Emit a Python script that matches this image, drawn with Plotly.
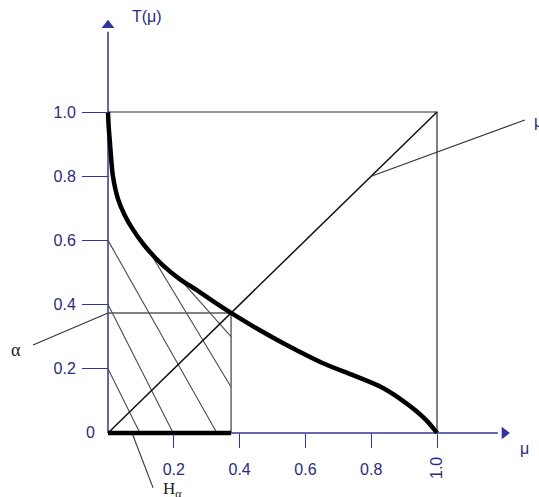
import plotly.graph_objects as go

# Membership transform curve T(mu)
mu_curve = [0.0, 0.002, 0.006, 0.015, 0.03, 0.05, 0.075, 0.11, 0.167, 0.22, 0.27,
            0.32, 0.374, 0.45, 0.55, 0.65, 0.75, 0.83, 0.89, 0.935, 0.97, 0.99, 1.0]
t_curve = [1.0, 0.955, 0.903, 0.80, 0.73, 0.68, 0.635, 0.585, 0.522, 0.478, 0.445,
           0.41, 0.374, 0.327, 0.27, 0.219, 0.178, 0.143, 0.105, 0.07, 0.037, 0.013, 0.0]

alpha = 0.374

# Axis ticks
x_tick_vals = [0.2, 0.4, 0.6, 0.8]
x_tick_text = ["0.2", "0.4", "0.6", "0.8"]
x_end_tick = [1.0]
y_tick_vals = [0.2, 0.4, 0.6, 0.8, 1.0]
y_tick_text = ["0.2", "0.4", "0.6", "0.8", "1.0"]

# Hatching under the curve, inside the alpha box
hatch_mu0 = [0.0, 0.0, 0.0, 0.12, 0.22]
hatch_t0 = [0.2, 0.4, 0.6, 0.575, 0.478]
hatch_mu1 = [0.097, 0.198, 0.331, alpha, alpha]
hatch_t1 = [0.0, 0.0, 0.0, 0.143, 0.30]

# Leader lines for the labels
alpha_leader_mu = [-0.228, 0.0]
alpha_leader_t = [0.274, alpha]
h_leader_mu = [0.073, 0.137]
h_leader_t = [0.0, -0.171]
mu_leader_mu = [0.8, 1.267]
mu_leader_t = [0.8, 0.975]

# Axis extents (arrow tips)
x_axis_end = 1.205
y_axis_end = 1.27

X_RANGE = [-0.3283, 1.3100]
Y_RANGE = [-0.1994, 1.3489]

NAVY = "#33339c"
LABEL = "#2b2b80"
SANS = "Liberation Sans, Arial, sans-serif"
SERIF = "Liberation Serif, Times New Roman, serif"

fig = go.Figure()

# axis lines with arrowheads
fig.add_trace(go.Scatter(x=[0, 0], y=[0, y_axis_end - 0.02], mode="lines",
                         line=dict(color=NAVY, width=1.5)))
fig.add_trace(go.Scatter(x=[0, x_axis_end - 0.02], y=[0, 0], mode="lines",
                         line=dict(color=NAVY, width=1.5)))
fig.add_trace(go.Scatter(x=[0], y=[y_axis_end], mode="markers",
                         marker=dict(symbol="triangle-up", size=11, color=NAVY)))
fig.add_trace(go.Scatter(x=[x_axis_end], y=[0], mode="markers",
                         marker=dict(symbol="triangle-right", size=11, color=NAVY)))

hx, hy = [], []
for a, b, c, d in zip(hatch_mu0, hatch_t0, hatch_mu1, hatch_t1):
    hx += [a, c, None]
    hy += [b, d, None]
fig.add_trace(go.Scatter(x=hx, y=hy, mode="lines",
                         line=dict(color="#4a4a4a", width=1.1)))

# unit square (top and right sides) and diagonal
fig.add_trace(go.Scatter(x=[0, 1, 1], y=[1, 1, 0], mode="lines",
                         line=dict(color="#2a2a2a", width=1.2)))
fig.add_trace(go.Scatter(x=[0, 1], y=[0, 1], mode="lines",
                         line=dict(color="#111111", width=1.5)))

# alpha level box
fig.add_trace(go.Scatter(x=[0, alpha, alpha], y=[alpha, alpha, 0], mode="lines",
                         line=dict(color="#5a5a5a", width=1.4)))

# leaders
for lx, ly in [(alpha_leader_mu, alpha_leader_t), (h_leader_mu, h_leader_t),
               (mu_leader_mu, mu_leader_t)]:
    fig.add_trace(go.Scatter(x=lx, y=ly, mode="lines",
                             line=dict(color="#333333", width=1.1)))

# the curve and H_alpha segment
fig.add_trace(go.Scatter(x=mu_curve, y=t_curve, mode="lines",
                         line=dict(color="black", width=4.5, shape="spline", smoothing=1.0)))
fig.add_trace(go.Scatter(x=[0, alpha], y=[0, 0], mode="lines",
                         line=dict(color="black", width=4.5)))

annotations = [
    dict(x=-0.052, y=0, text="0", showarrow=False,
         font=dict(family=SANS, size=16, color=LABEL)),
    dict(x=1.0, y=-0.109, text="1.0", textangle=-90, showarrow=False,
         font=dict(family=SANS, size=16, color=LABEL)),
    dict(x=0.1185, y=1.299, text="T(μ)", showarrow=False,
         font=dict(family=SANS, size=16, color=LABEL)),
    dict(x=1.267, y=-0.047, text="μ", showarrow=False,
         font=dict(family=SANS, size=16, color=LABEL)),
    dict(x=1.289, y=0.969, text="μ", showarrow=False, xanchor="left",
         font=dict(family=SANS, size=16, color=LABEL)),
    dict(x=-0.28, y=0.259, text="α", showarrow=False,
         font=dict(family=SERIF, size=18, color="#222222")),
    dict(x=0.195, y=-0.178, text="H<sub>α</sub>", showarrow=False,
         font=dict(family=SERIF, size=17, color="#222222")),
]

fig.update_layout(
    width=539, height=497,
    margin=dict(l=0, r=0, t=0, b=0),
    paper_bgcolor="white", plot_bgcolor="white",
    showlegend=False,
    annotations=annotations,
    xaxis=dict(range=X_RANGE, anchor="free",
               position=(0 - Y_RANGE[0]) / (Y_RANGE[1] - Y_RANGE[0]),
               tickvals=x_tick_vals, ticktext=x_tick_text,
               ticks="outside", ticklen=14, tickwidth=1.4, tickcolor=NAVY,
               minor=dict(tickvals=x_end_tick, ticks="outside", ticklen=14,
                          tickwidth=1.4, tickcolor=NAVY, showgrid=False),
               ticklabelstandoff=8,
               tickfont=dict(family=SANS, size=16, color=LABEL),
               showgrid=False, zeroline=False, showline=False, automargin=False),
    yaxis=dict(range=Y_RANGE, anchor="free",
               position=(0 - X_RANGE[0]) / (X_RANGE[1] - X_RANGE[0]),
               tickvals=y_tick_vals, ticktext=y_tick_text,
               ticks="outside", ticklen=26, tickwidth=1.4, tickcolor=NAVY,
               ticklabelstandoff=3,
               tickfont=dict(family=SANS, size=16, color=LABEL),
               showgrid=False, zeroline=False, showline=False, automargin=False),
)

fig.write_html("out.html")
